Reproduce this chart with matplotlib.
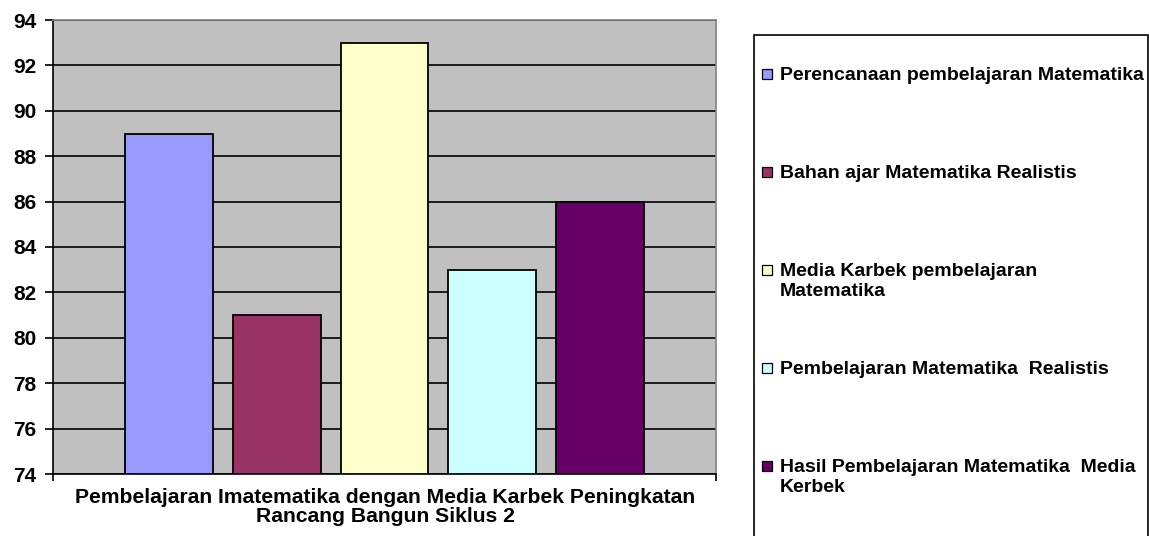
import matplotlib
matplotlib.use("Agg")
import matplotlib.pyplot as plt
from matplotlib.patches import Rectangle

# data
series = ["Perencanaan pembelajaran Matematika",
          "Bahan ajar Matematika Realistis",
          "Media Karbek pembelajaran\nMatematika",
          "Pembelajaran Matematika  Realistis",
          "Hasil Pembelajaran Matematika  Media\nKerbek"]
values = [89, 81, 93, 83, 86]
colors = ["#9999FF", "#993366", "#FFFFCC", "#CCFFFF", "#660066"]
category = "Pembelajaran Imatematika dengan Media Karbek Peningkatan\nRancang Bangun Siklus 2"
yticks = [74, 76, 78, 80, 82, 84, 86, 88, 90, 92, 94]

W, H = 1149, 536
fig = plt.figure(figsize=(W / 100, H / 100), dpi=100)
fig.patch.set_facecolor("white")

ax = fig.add_axes([53 / W, 1 - 474 / H, (716 - 53) / W, (474 - 20) / H])
ax.set_facecolor("#C0C0C0")

xpos = list(range(len(values)))
ax.bar(xpos, [v - 74 for v in values], bottom=74, width=0.815,
       color=colors, edgecolor="black", linewidth=1.3, zorder=3)

ax.set_xlim(-1.074, 5.074)
ax.set_ylim(74, 94)
ax.set_yticks(yticks)
ax.set_yticklabels([str(t) for t in yticks], fontsize=15, fontweight="bold",
                   family="Liberation Sans")
ax.yaxis.grid(True, color="black", linewidth=1.2, zorder=1)
ax.set_axisbelow(True)

ax.set_xticks([-1.074, 5.074])
ax.set_xticklabels(["", ""])
ax.tick_params(axis="y", direction="out", length=6, width=1.2, pad=6, colors="black")
ax.tick_params(axis="x", direction="out", length=5, width=1.2)

ax.spines["left"].set_color("black")
ax.spines["left"].set_linewidth(1.2)
ax.spines["bottom"].set_color("black")
ax.spines["bottom"].set_linewidth(1.2)
ax.spines["top"].set_color("#808080")
ax.spines["top"].set_linewidth(1.2)
ax.spines["right"].set_color("#808080")
ax.spines["right"].set_linewidth(1.2)

fig.text(385 / W, 1 - 507 / H, category, ha="center", va="center",
         fontsize=15.2, fontweight="bold", family="Liberation Sans",
         linespacing=0.98)

# legend drawn by hand in figure coordinates
frame = Rectangle((754 / W, -0.05), (1148 - 754) / W, (536 - 35) / H + 0.05,
                  transform=fig.transFigure, facecolor="white",
                  edgecolor="black", linewidth=1.2)
fig.patches.append(frame)
label_y = [74, 172, 270, 368, 466]
for lab, col, yy in zip(series, colors, label_y):
    sq = Rectangle((762 / W, 1 - (yy + 5) / H), 10 / W, 10 / H,
                   transform=fig.transFigure, facecolor=col,
                   edgecolor="black", linewidth=0.9)
    fig.patches.append(sq)
    fig.text(780 / W, 1 - (yy - 7) / H, lab, ha="left", va="top",
             fontsize=14, fontweight="bold", family="Liberation Sans",
             linespacing=1.22)

fig.savefig("out.png", dpi=100)
